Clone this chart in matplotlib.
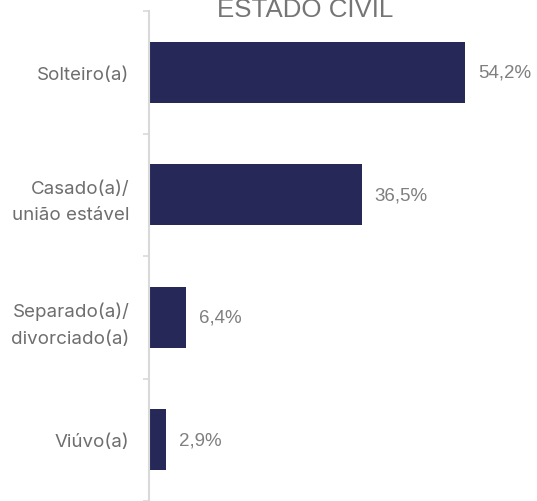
import matplotlib.pyplot as plt
import numpy as np

# estado civil dos respondentes (%)
categorias = ['Solteiro(a)', 'Casado(a)/\nunião estável', 'Separado(a)/\ndivorciado(a)', 'Viúvo(a)']
valores = [54.2, 36.5, 6.4, 2.9]
rotulos = ['54,2%', '36,5%', '6,4%', '2,9%']

plt.rcParams['font.family'] = ['Inter', 'DejaVu Sans']

fig = plt.figure(figsize=(5.37, 5.02), dpi=100)
ax = fig.add_axes([149 / 537, 0.0, 1 - 149 / 537, 1 - 12 / 502])

y = np.arange(len(categorias))
ax.barh(y, valores, height=0.5, color='#262858')

for yi, v, txt in zip(y, valores, rotulos):
    ax.text(v + 2.2, yi, txt, va='center', ha='left', fontsize=13.5, color='#7f7f7f',
            family=['Liberation Sans', 'DejaVu Sans'])

ax.set_ylim(len(categorias) - 0.5, -0.5)
ax.set_xlim(0, 66.5)

# separadores entre categorias no eixo vertical
ax.set_yticks(np.arange(-0.5, len(categorias)), minor=True)
ax.set_yticks(y)
ax.set_yticklabels(categorias, fontsize=13.5, color='#6e6e6e', linespacing=1.75)
ax.tick_params(axis='y', which='major', length=0, pad=14)
ax.tick_params(axis='y', which='minor', length=4, width=1.2, color='#d9d9d9')
ax.set_xticks([])

for s in ['top', 'right', 'bottom']:
    ax.spines[s].set_visible(False)
ax.spines['left'].set_color('#d9d9d9')
ax.spines['left'].set_linewidth(1.5)

fig.text(305 / 537, 1 - 17 / 502, 'ESTADO CIVIL', ha='center', va='baseline',
         fontsize=18.6, color='#757575', family=['Liberation Sans', 'DejaVu Sans'])

fig.savefig('out.png', dpi=100)
